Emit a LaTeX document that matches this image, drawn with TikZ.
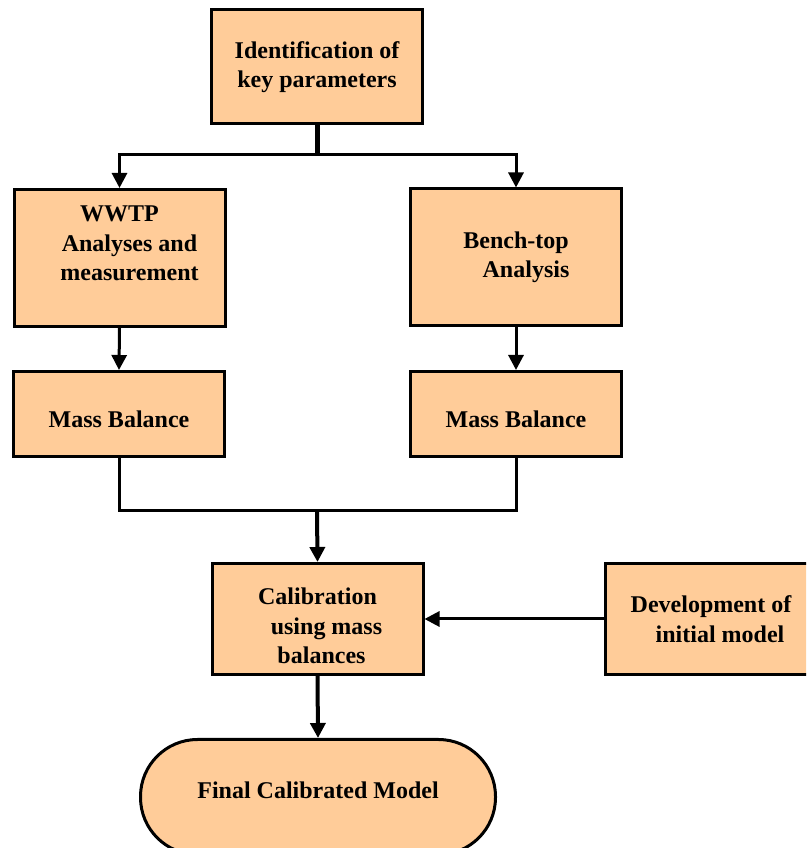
\documentclass[tikz,border=0pt]{standalone}
\usepackage{fontspec}
\setmainfont{Liberation Serif}
\usetikzlibrary{arrows.meta,calc,positioning}
\definecolor{boxfill}{RGB}{255,204,153}

\begin{document}
\begin{tikzpicture}[x=1pt, y=1pt, >={Triangle[length=15pt,width=15pt]},
  font=\fontsize{24}{29.5}\selectfont\bfseries]

% =====================================================================
% Page is 806 x 848 (1 unit = 1pt); boxes on the right and the final
% stadium run off the page edge, so everything is clipped to it.
% =====================================================================
\useasboundingbox (0,0) rectangle (806,848);
\clip (0,0) rectangle (806,848);

\tikzset{
  stage/.style={draw=black, line width=3pt, fill=boxfill, align=center,
    minimum width=211pt, inner sep=0pt},
  link/.style={black, line width=3pt},
}

\def\splitY{693}
\def\joinY{337}

% ===== STAGES =====
\node[stage, minimum height=114pt] (ident) at (317,781)
  {Identification of\\key parameters};

\node[stage, minimum height=137pt, text depth=29pt] (wwtp) at (119.5,590)
  {WWTP\\\hspace*{20pt}Analyses and\\\hspace*{20pt}measurement};
\node[stage, minimum height=137pt] (bench) at (516,590.5)
  {Bench-top\\\hspace*{20pt}Analysis};

\node[stage, minimum height=85pt, text height=28pt] (massL) at (119,434)
  {Mass Balance};
\node[stage, minimum height=85pt, text height=28pt] (massR) at (516,434)
  {Mass Balance};

\node[stage, minimum height=111pt] (calib) at (317.5,229)
  {\rule{0pt}{31pt}Calibration\\\hspace*{18pt}using mass\\\hspace*{8pt}balances};
\node[stage, minimum height=111pt] (devel) at (711,229)
  {Development of\\\hspace*{18pt}initial model};

\node[stage, minimum width=355pt, minimum height=115pt,
      rounded corners=57pt, text depth=14pt] (final) at (318,51)
  {Final Calibrated Model};

% ===== CONNECTORS =====
\coordinate (split) at (317,\splitY);
\coordinate (join) at (317,\joinY);

\draw[link, line width=5pt] (ident.south) -- (split);
\draw[link, ->] (split) -| (wwtp.north);
\draw[link, ->] (split) -| (bench.north);

\draw[link, ->] (wwtp.south) -- (massL.north);
\draw[link, ->] (bench.south) -- (massR.north);

\draw[link] (massL.south) |- (join) -| (massR.south);
\draw[link, line width=4pt, ->] (join) -- (calib.north);

\draw[link, ->] (devel.west) -- (calib.east);
\draw[link, line width=4pt, ->] (calib.south) -- (final.north);

\end{tikzpicture}
\end{document}
